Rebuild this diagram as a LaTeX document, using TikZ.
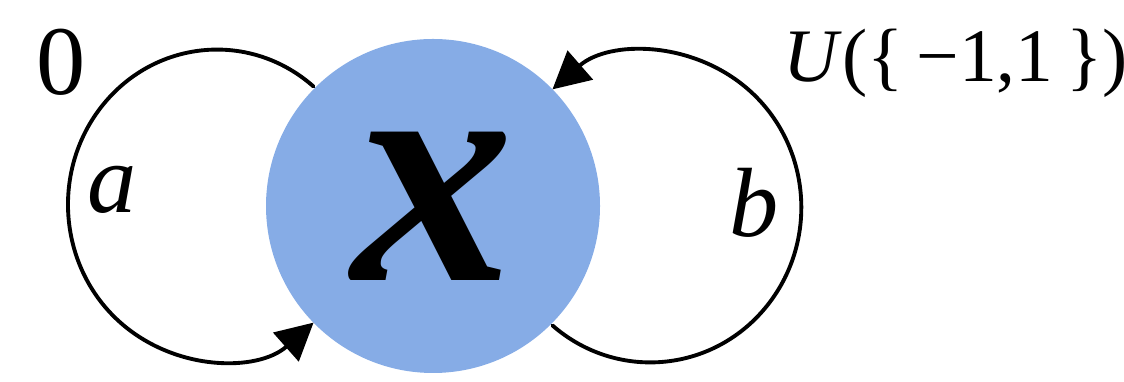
\documentclass[tikz,border=0pt]{standalone}
\usepackage{fontspec}
\setmainfont{Liberation Serif}
\usetikzlibrary{arrows.meta}
\usepackage{xcolor}
\definecolor{nodeblue}{RGB}{134,172,230}

\begin{document}
\begin{tikzpicture}[>={Triangle[length=3.7mm,width=3.8mm]},line width=1.1pt,line cap=round,
  lbl/.style={font=\fontsize{28}{28}\selectfont}]
\useasboundingbox (0,0) rectangle (11.24,3.82);
\node[circle,fill=nodeblue,inner sep=0pt,minimum size=3.34cm,font=\fontsize{92}{92}\selectfont\bfseries\itshape] (x) at (4.33,1.76) {x};
% self loops
\draw[->] (x.135) arc[start angle=49.6,end angle=310.4,x radius=1.49cm,y radius=1.55cm];
\draw[->] (x.-45) arc[start angle=-130.4,end angle=130.4,x radius=1.51cm,y radius=1.55cm];
\node[lbl] (zero) at (0.61,3.20) {0};
\node[lbl,font=\fontsize{28}{28}\selectfont\itshape] (a) at (1.12,1.92) {a};
\node[lbl,font=\fontsize{28}{28}\selectfont\itshape] (b) at (7.54,1.79) {b};
\node[anchor=base west,inner sep=0pt,font=\fontsize{21.5}{21.5}\selectfont] (dist) at (7.82,3.00) {\textit{U}(\{\,\symbol{"2212}1,1\,\})};
\end{tikzpicture}
\end{document}
